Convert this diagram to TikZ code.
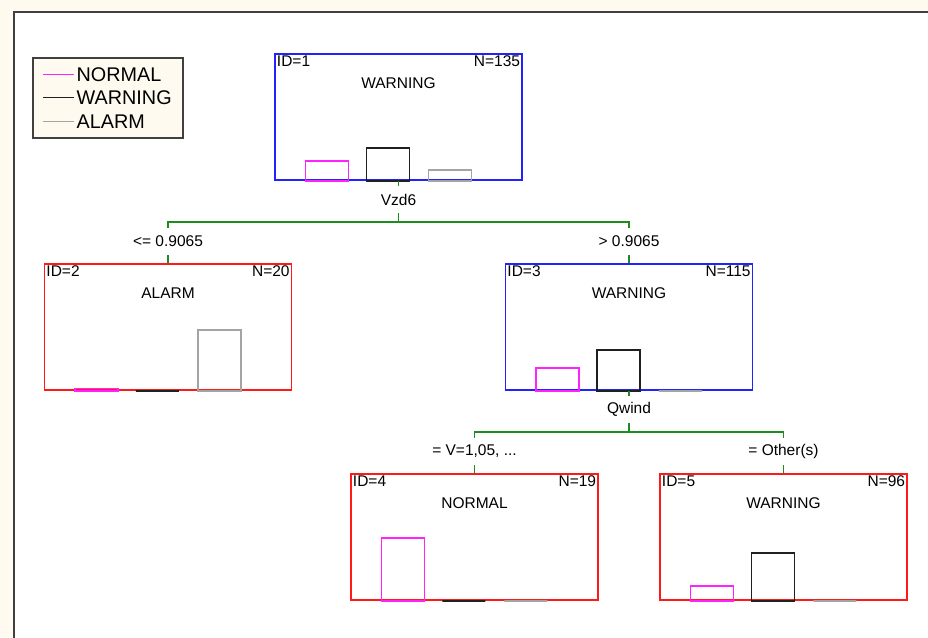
\documentclass[tikz,border=0pt]{standalone}
\usepackage{fontspec}
\setmainfont{Liberation Sans}
\definecolor{cream}{HTML}{FFFAF0}
\definecolor{framec}{HTML}{404040}
\definecolor{splitc}{HTML}{1E8C1E}
\definecolor{normalc}{HTML}{FF22FF}
\definecolor{warnc}{HTML}{202020}
\definecolor{alarmc}{HTML}{A4A4A4}
\definecolor{bluebox}{HTML}{2222FF}
\definecolor{redbox}{HTML}{FF1A1A}

\begin{document}
\begin{tikzpicture}[x=1pt,y=-1pt,every node/.style={font=\fontsize{15.5}{18}\selectfont}]
    \tikzset{
      tnode/.style={draw,rectangle,line width=1.5pt,minimum width=247pt,
        minimum height=126pt,inner sep=0pt},
      corner/.style={inner sep=2.5pt},
      cond/.style={inner sep=0pt,minimum height=27pt},
      split/.style={draw=splitc,line width=1.2pt},
      bar/.style={line width=1.5pt},
      legline/.style={line width=1.3pt},
      legtext/.style={anchor=west,inner sep=0pt,font=\fontsize{19.8}{22}\selectfont}
    }
    \clip (0,0) rectangle (928,637);
    \fill[cream] (0,0) rectangle (928,637);
    \draw[framec,fill=white,line width=2pt] (14,12) rectangle (960,680);

    % legend
    \node[draw=framec,fill=cream,line width=1.4pt,minimum width=150pt,
      minimum height=80pt,inner sep=0pt] (legend) at (108,98) {};
    \node[legtext] (lnormal) at (76.5,74.7) {NORMAL};
    \node[legtext] (lwarn) at (76.5,97.7) {WARNING};
    \node[legtext] (lalarm) at (76.5,122) {ALARM};
    \coordinate (k1) at (43,74.5);
    \coordinate (k2) at (43,97.7);
    \coordinate (k3) at (43,121.7);
    \draw[legline,normalc] (k1) -- ++(31,0);
    \draw[legline,warnc] (k2) -- ++(31,0);
    \draw[legline,alarmc] (k3) -- ++(31,0);

    % tree nodes
    \node[tnode,draw=bluebox] (n1) at (398.5,117) {};
    \node[tnode,draw=redbox] (n2) at (168,327) {};
    \node[tnode,draw=bluebox] (n3) at (629,327) {};
    \node[tnode,draw=redbox] (n4) at (474.5,537) {};
    \node[tnode,draw=redbox] (n5) at (783.5,537) {};

    \node[corner,anchor=north west] (n1id) at (n1.north west) {ID=1};
    \node[corner,anchor=north east] (n1n) at (n1.north east) {N=135};
    \node (n1c) at ([yshift=-30pt]n1.north) {WARNING};
    \node[corner,anchor=north west] (n2id) at (n2.north west) {ID=2};
    \node[corner,anchor=north east] (n2n) at (n2.north east) {N=20};
    \node (n2c) at ([yshift=-30pt]n2.north) {ALARM};
    \node[corner,anchor=north west] (n3id) at (n3.north west) {ID=3};
    \node[corner,anchor=north east] (n3n) at (n3.north east) {N=115};
    \node (n3c) at ([yshift=-30pt]n3.north) {WARNING};
    \node[corner,anchor=north west] (n4id) at (n4.north west) {ID=4};
    \node[corner,anchor=north east] (n4n) at (n4.north east) {N=19};
    \node (n4c) at ([yshift=-30pt]n4.north) {NORMAL};
    \node[corner,anchor=north west] (n5id) at (n5.north west) {ID=5};
    \node[corner,anchor=north east] (n5n) at (n5.north east) {N=96};
    \node (n5c) at ([yshift=-30pt]n5.north) {WARNING};

    % class histograms
    \foreach \nd/\ha/\hb/\hc in {n1/20/33/11, n2/2.5/0/61, n3/23/41/0,
                                 n4/63/0/0, n5/15/48/0} {
      \draw[bar,normalc] ([xshift=31pt]\nd.south west) rectangle ++(43pt,\ha pt);
      \draw[bar,warnc] ([xshift=92pt]\nd.south west) rectangle ++(43pt,\hb pt);
      \draw[bar,alarmc] ([xshift=154pt]\nd.south west) rectangle ++(43pt,\hc pt);
    }

    % first split
    \node[cond] (s1) at (398.5,199.5) {Vzd6};
    \coordinate (b1) at (398.5,222);
    \node[cond] (c2) at (168,241.5) {<= 0.9065};
    \node[cond] (c3) at (629,241.5) {> 0.9065};
    \draw[split] (n1.south) -- (s1.north);
    \draw[split] (s1.south) -- (b1);
    \draw[split] (b1) -| (c2.north);
    \draw[split] (b1) -| (c3.north);
    \draw[split] (c2.south) -- (n2.north);
    \draw[split] (c3.south) -- (n3.north);

    % second split
    \node[cond] (s3) at (629,409.5) {Qwind};
    \coordinate (b3) at (629,432);
    \node[cond] (c4) at (474.5,451.5) {= V=1,05, ...};
    \node[cond] (c5) at (783.5,451.5) {= Other(s)};
    \draw[split] (n3.south) -- (s3.north);
    \draw[split] (s3.south) -- (b3);
    \draw[split] (b3) -| (c4.north);
    \draw[split] (b3) -| (c5.north);
    \draw[split] (c4.south) -- (n4.north);
    \draw[split] (c5.south) -- (n5.north);
  \end{tikzpicture}
\end{document}
